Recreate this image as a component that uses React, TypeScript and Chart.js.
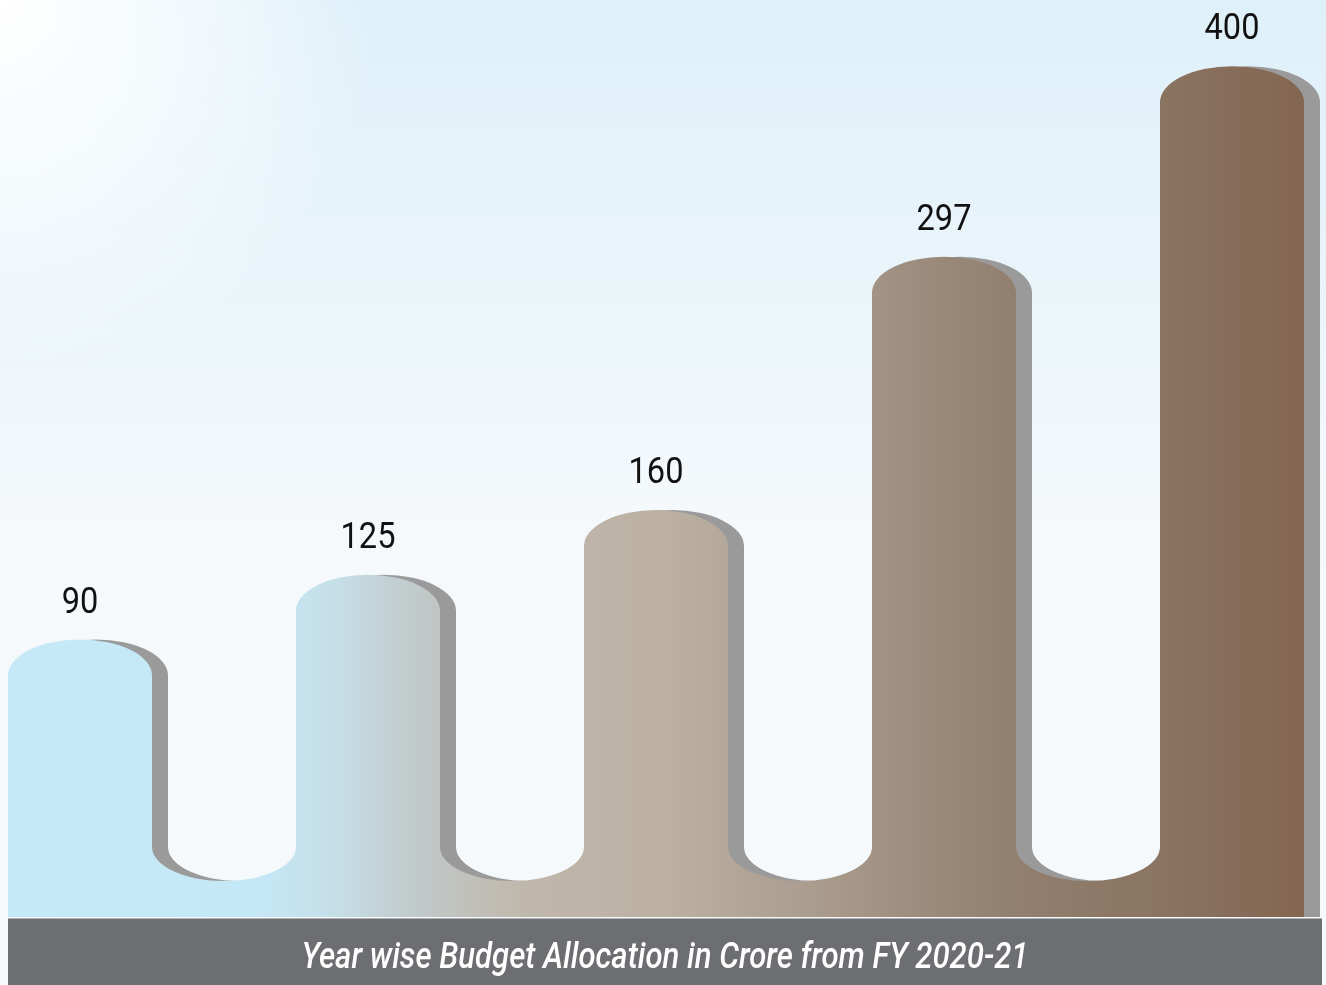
import React, { useEffect, useRef } from "react";
import { Chart, registerables } from "chart.js";

Chart.register(...registerables);

const categories = ["FY 2020-21", "FY 2021-22", "FY 2022-23", "FY 2023-24", "FY 2024-25"];
const budgetValues = [90, 125, 160, 297, 400];
const valueLabels = ["90", "125", "160", "297", "400"];
const caption = "Year wise Budget Allocation in Crore from FY 2020-21";

const ribbonStops: [number, string][] = [
  [0.0, "#c6e9f8"],
  [0.19, "#c5e8f7"],
  [0.25, "#c5dfe8"],
  [0.32, "#c1c8c8"],
  [0.4, "#c0b7ab"],
  [0.51, "#bbb0a2"],
  [0.61, "#ac9e90"],
  [0.77, "#928070"],
  [0.88, "#8b7563"],
  [1.0, "#836651"],
];

const ribbonPlugin = {
  id: "ribbon",
  beforeDraw(chart: any) {
    const { ctx, width, height } = chart;
    ctx.save();
    ctx.fillStyle = "#f5f9fc";
    ctx.fillRect(0, 0, width, height);
    const lg = ctx.createLinearGradient(0, 0, 0, height);
    lg.addColorStop(0, "rgba(222,240,249,1)");
    lg.addColorStop(0.35, "rgba(232,244,250,0.7)");
    lg.addColorStop(0.6, "rgba(245,249,252,0)");
    ctx.fillStyle = lg;
    ctx.fillRect(0, 0, width, height);
    const rg = ctx.createRadialGradient(0, 0, 0, 0, 0, 380);
    rg.addColorStop(0, "rgba(255,255,255,1)");
    rg.addColorStop(0.5, "rgba(255,255,255,0.6)");
    rg.addColorStop(1, "rgba(255,255,255,0)");
    ctx.fillStyle = rg;
    ctx.fillRect(0, 0, width, height);
    ctx.restore();
  },
  afterDatasetsDraw(chart: any) {
    const { ctx, chartArea } = chart;
    const meta = chart.getDatasetMeta(0);
    const els = meta.data;
    if (!els.length) return;
    const bottom = chartArea.bottom;
    const capRy = 36;
    const valleyBottom = bottom - 36;
    const valleyRy = 34;

    const buildPath = (dx: number) => {
      ctx.beginPath();
      for (let i = 0; i < els.length; i++) {
        const el = els[i];
        const w = el.width / 2;
        const cx = el.x + dx;
        const top = el.y;
        if (i === 0) {
          ctx.moveTo(cx - w, bottom);
        }
        ctx.lineTo(cx - w, top + capRy);
        ctx.ellipse(cx, top + capRy, w, capRy, 0, Math.PI, Math.PI * 2, false);
        if (i < els.length - 1) {
          const next = els[i + 1];
          const nx = next.x + dx - next.width / 2;
          const rx = (nx - (cx + w)) / 2;
          const vc = valleyBottom - valleyRy;
          ctx.lineTo(cx + w, vc);
          ctx.ellipse(cx + w + rx, vc, rx, valleyRy, 0, Math.PI, 0, true);
        } else {
          ctx.lineTo(cx + w, bottom);
        }
      }
      ctx.closePath();
    };

    const first = els[0];
    const last = els[els.length - 1];
    const x0 = first.x - first.width / 2;
    const x1 = last.x + last.width / 2;

    ctx.save();
    // shadow
    buildPath(16);
    ctx.fillStyle = "#9a9a9a";
    ctx.fill();
    // ribbon
    buildPath(0);
    const g = ctx.createLinearGradient(x0, 0, x1, 0);
    ribbonStops.forEach(([p, c]) => g.addColorStop(p, c));
    ctx.fillStyle = g;
    ctx.fill();

    // value labels
    ctx.fillStyle = "#111111";
    ctx.textAlign = "center";
    ctx.textBaseline = "alphabetic";
    ctx.font = "37px Roboto";
    for (let i = 0; i < els.length; i++) {
      const el = els[i];
      ctx.save();
      ctx.translate(el.x, el.y - 27);
      ctx.scale(0.88, 1);
      ctx.fillText(valueLabels[i], 0, 0);
      ctx.restore();
    }

    // footer band
    const fTop = bottom + 1.5;
    ctx.fillStyle = "#6d6e71";
    ctx.fillRect(x0, fTop, x1 + 18 - x0, chart.height - fTop);
    ctx.fillStyle = "#ffffff";
    ctx.font = "italic 500 36px Roboto";
    const m = ctx.measureText(caption).width;
    const targetW = 727;
    const sx = targetW / m;
    ctx.save();
    ctx.translate((x0 + x1 + 18) / 2, 968);
    ctx.scale(sx, 1);
    ctx.textAlign = "center";
    ctx.fillText(caption, 0, 0);
    ctx.restore();
    ctx.restore();
  },
};

export default function App() {
  const ref = useRef<HTMLCanvasElement | null>(null);
  useEffect(() => {
    if (!ref.current) return;
    const chart = new Chart(ref.current, {
      type: "bar",
      data: {
        labels: categories,
        datasets: [
          {
            label: "Budget (Crore)",
            data: budgetValues,
            backgroundColor: "rgba(0,0,0,0)",
            borderWidth: 0,
            barThickness: 144,
          },
        ],
      },
      options: {
        responsive: false,
        animation: false,
        devicePixelRatio: 1,
        layout: { padding: { left: 80, right: 94, top: 20, bottom: 68 } },
        scales: {
          x: { display: false, offset: false, grid: { display: false } },
          y: { display: false, min: -60, max: 425, grid: { display: false } },
        },
        plugins: {
          legend: { display: false },
          tooltip: { enabled: false },
        },
      },
      plugins: [ribbonPlugin],
    });
    return () => chart.destroy();
  }, []);
  return (
    <div style={{ position: "fixed", left: 0, top: 0, width: 1326, height: 985 }}>
      <canvas ref={ref} width={1326} height={985} style={{ display: "block" }} />
    </div>
  );
}
